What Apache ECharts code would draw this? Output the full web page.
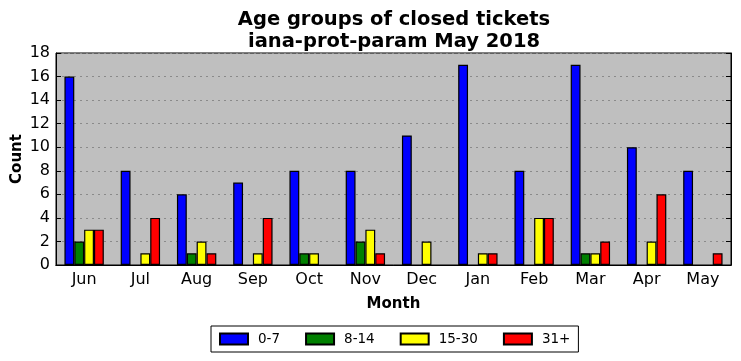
<!DOCTYPE html>
<html>
<head>
<meta charset="utf-8">
<script src="https://cdn.jsdelivr.net/npm/echarts@6/dist/echarts.min.js"></script>
<style>html,body{margin:0;padding:0;background:#fff}#c{width:741px;height:361px}</style>
</head>
<body>
<div id="c"></div>
<script>
const months = ['Jun','Jul','Aug','Sep','Oct','Nov','Dec','Jan','Feb','Mar','Apr','May'];
const age0to7   = [16, 8, 6, 7, 8, 8, 11, 17, 8, 17, 10, 8];
const age8to14  = [2, 0, 1, 0, 1, 2, 0, 0, 0, 1, 0, 0];
const age15to30 = [3, 1, 2, 1, 1, 3, 2, 1, 4, 1, 2, 0];
const age31plus = [3, 4, 1, 4, 0, 1, 0, 1, 4, 2, 6, 1];
const seriesNames = ['0-7','8-14','15-30','31+'];
const colors = ['#0000ff','#008000','#ffff00','#ff0000'];
const yTicks = [0,2,4,6,8,10,12,14,16,18];

const font = 'DejaVu Sans';
const chart = echarts.init(document.getElementById('c'), null, {renderer:'canvas'});
const allData = [age0to7, age8to14, age15to30, age31plus];
const series = allData.map((d,i)=>({
  name: seriesNames[i],
  type: 'bar',
  data: d.map(v => v === 0 ? {value: v, itemStyle: {borderWidth: 0}} : v),
  barGap: '0%',
  barCategoryGap: '30%',
  itemStyle: {color: colors[i], borderColor: '#000', borderWidth: 1.2},
  emphasis: {disabled: true}
}));
chart.setOption({
  animation: false,
  backgroundColor: '#fff',
  title: {
    text: 'Age groups of closed tickets\niana-prot-param May 2018',
    left: 389, top: 4, textAlign: 'center',
    textStyle: {fontFamily: font, fontSize: 19.5, fontWeight: 'bold', color: '#000', lineHeight: 22}
  },
  legend: {
    data: seriesNames.map(n => ({name: n, icon: 'rect'})),
    top: 326, left: 211,
    borderColor: '#000', borderWidth: 1, borderRadius: 0,
    padding: [6, 8],
    itemWidth: 28, itemHeight: 11, itemGap: 25,
    textStyle: {fontFamily: font, fontSize: 13.5, color: '#000', padding: [0, 0, 0, 5]}
  },
  grid: {left: 56, right: 10, top: 53, bottom: 96, outerBoundsMode: 'none', containLabel: false,
    show: true, backgroundColor: '#bfbfbf', borderColor: '#000', borderWidth: 1},
  xAxis: [{
    type: 'category', data: months,
    name: 'Month', nameLocation: 'middle', nameGap: 32, nameMoveOverlap: false,
    nameTextStyle: {fontFamily: font, fontSize: 15, fontWeight: 'bold', color: '#000'},
    axisLine: {lineStyle: {color: '#000'}},
    axisTick: {alignWithLabel: true, inside: true, length: 5, lineStyle: {color: '#000'}},
    axisLabel: {fontFamily: font, fontSize: 16, color: '#000', margin: 7},
    splitLine: {show: false}
  },{
    type: 'category', data: months, position: 'top',
    axisLine: {lineStyle: {color: '#000'}},
    axisTick: {alignWithLabel: true, inside: true, length: 5, lineStyle: {color: '#000'}},
    axisLabel: {show: false}
  }],
  yAxis: [{
    type: 'value', min: 0, max: 18, interval: 2,
    name: 'Count', nameLocation: 'middle', nameGap: 31, nameRotate: 90, nameMoveOverlap: false,
    nameTextStyle: {fontFamily: font, fontSize: 15, fontWeight: 'bold', color: '#000'},
    axisLine: {show: true, lineStyle: {color: '#000'}},
    axisTick: {show: true, inside: true, length: 5, lineStyle: {color: '#000'}},
    axisLabel: {fontFamily: font, fontSize: 16, color: '#000', margin: 6,
      formatter: v => yTicks.includes(v) ? String(v) : ''},
    splitLine: {show: true, lineStyle: {color: '#8a8a8a', type: [2, 4], width: 1}}
  },{
    type: 'value', min: 0, max: 18, interval: 2, position: 'right',
    axisLine: {show: true, lineStyle: {color: '#000'}},
    axisTick: {show: true, inside: true, length: 5, lineStyle: {color: '#000'}},
    axisLabel: {show: false},
    splitLine: {show: false}
  }],
  series: series
});
</script>
</body>
</html>
